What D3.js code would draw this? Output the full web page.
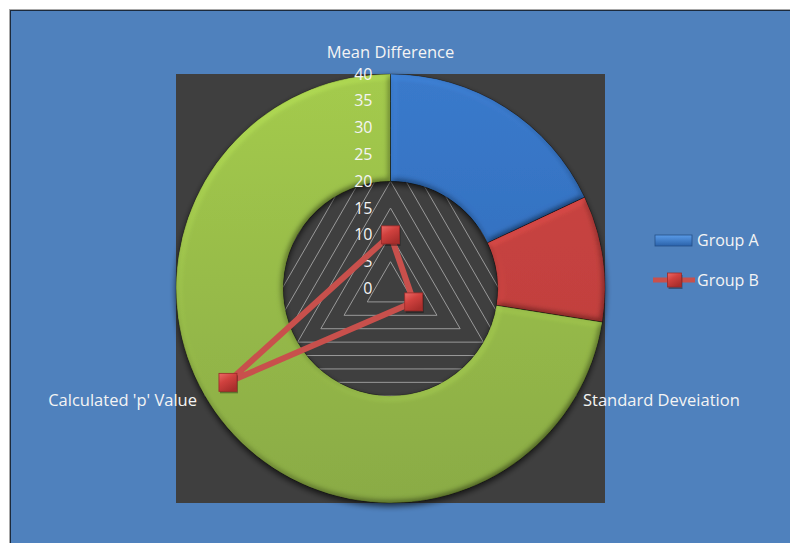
<!DOCTYPE html>
<html><head><meta charset="utf-8">
<script src="https://cdn.jsdelivr.net/npm/d3@7"></script>
<style>html,body{margin:0;padding:0;background:#fff;}svg{display:block;}</style>
</head><body>
<svg id="c" width="790" height="543"></svg>
<script>
const categories = ["Mean Difference", "Standard Deveiation", "Calculated 'p' Value"];
const groupA = [18, 9.5, 72.5];   // donut (share of ring)
const groupB = [10, 5, 35];       // radar values
const radialTicks = [0, 5, 10, 15, 20, 25, 30, 35, 40];
const seriesNames = ["Group A", "Group B"];

const W = 790, H = 543;
const svg = d3.select("#c");
const defs = svg.append("defs");
const FONT = "'Open Sans', 'DejaVu Sans', sans-serif";

// chart frame
svg.append("rect").attr("x", 9).attr("y", 9).attr("width", W).attr("height", H).attr("fill", "#a8a8a8");
svg.append("rect").attr("x", 10).attr("y", 10).attr("width", W).attr("height", H).attr("fill", "#1c2a3c");
svg.append("rect").attr("x", 11).attr("y", 11).attr("width", W).attr("height", H).attr("fill", "#4f81bd");

// plot area
const plot = {x: 176, y: 74, w: 429, h: 429};
svg.append("rect").attr("x", plot.x).attr("y", plot.y).attr("width", plot.w).attr("height", plot.h).attr("fill", "#3f3f3f");

const cx = plot.x + plot.w / 2, cy = plot.y + plot.h / 2;
const R = plot.w / 2;
const r = d3.scaleLinear().domain([0, 40]).range([0, R]);
const angle = d3.scaleLinear().domain([0, categories.length]).range([0, 2 * Math.PI]);
const pt = (i, v) => [cx + r(v) * Math.sin(angle(i)), cy - r(v) * Math.cos(angle(i))];

const g = svg.append("g");

// radar gridlines (triangles)
radialTicks.filter(t => t > 0).forEach(t => {
  const pts = categories.map((c, i) => pt(i, t));
  g.append("path").attr("d", d3.line()(pts) + "Z").attr("fill", "none")
    .attr("stroke", "#9a9a9a").attr("stroke-width", 1);
});

// gradients
function vgrad(id, top, bottom) {
  const lg = defs.append("linearGradient").attr("id", id).attr("gradientUnits", "userSpaceOnUse")
    .attr("x1", 0).attr("y1", -R).attr("x2", 0).attr("y2", R);
  lg.append("stop").attr("offset", "0%").attr("stop-color", top);
  lg.append("stop").attr("offset", "100%").attr("stop-color", bottom);
}
vgrad("gBlue", "#3a7acb", "#2c66b4");
vgrad("gRed", "#cc4643", "#bb3c3a");
vgrad("gGreen", "#a4cb4d", "#8aab45");
const sliceFill = ["url(#gBlue)", "url(#gRed)", "url(#gGreen)"];

// bevel filter (diffuse lighting multiplied with the fill; flat area unchanged)
const f = defs.append("filter").attr("id", "bevel").attr("x", "-5%").attr("y", "-5%").attr("width", "110%").attr("height", "110%");
f.append("feGaussianBlur").attr("in", "SourceAlpha").attr("stdDeviation", 3).attr("result", "blur");
const dl = f.append("feDiffuseLighting").attr("in", "blur").attr("surfaceScale", 3.5).attr("diffuseConstant", 1)
  .attr("lighting-color", "#ffffff").attr("result", "diff");
dl.append("feDistantLight").attr("azimuth", 235).attr("elevation", 60);
f.append("feComposite").attr("in", "SourceGraphic").attr("in2", "diff").attr("operator", "arithmetic")
  .attr("k1", 1.155).attr("k2", 0).attr("k3", 0).attr("k4", 0).attr("result", "lit");
f.append("feComposite").attr("in", "lit").attr("in2", "SourceAlpha").attr("operator", "in");

const sh = defs.append("filter").attr("id", "shadow").attr("x", "-10%").attr("y", "-10%").attr("width", "120%").attr("height", "120%");
sh.append("feGaussianBlur").attr("in", "SourceAlpha").attr("stdDeviation", 3).attr("result", "b");
sh.append("feOffset").attr("in", "b").attr("dx", 0).attr("dy", 3).attr("result", "o");
sh.append("feComponentTransfer").attr("in", "o").attr("result", "o2")
  .append("feFuncA").attr("type", "linear").attr("slope", 0.7);
const m = sh.append("feMerge");
m.append("feMergeNode").attr("in", "o2");
m.append("feMergeNode").attr("in", "SourceGraphic");

// donut (Group A)
const pie = d3.pie().sort(null).startAngle(0).endAngle(2 * Math.PI);
const arc = d3.arc().innerRadius(R * 0.5).outerRadius(R);
const donut = svg.append("g").attr("transform", `translate(${cx},${cy})`).attr("filter", "url(#shadow)");
donut.selectAll("path.slice").data(pie(groupA)).join("path").attr("class", "slice")
  .attr("d", arc).attr("fill", (d, i) => sliceFill[i])
  .attr("filter", "url(#bevel)");
donut.selectAll("path.edge").data(pie(groupA)).join("path").attr("class", "edge")
  .attr("d", arc).attr("fill", "none")
  .attr("stroke", "rgba(0,0,0,0.3)").attr("stroke-width", 0.8);

// radial axis tick labels
svg.append("g").selectAll("text").data(radialTicks).join("text")
  .attr("x", cx - 18).attr("y", d => cy - r(d)).attr("dy", "0.35em")
  .attr("text-anchor", "end").attr("fill", "#f4f4f4")
  .attr("font-family", FONT).attr("font-size", 16).text(d => d);

// category labels
const labelPos = [
  {x: cx, y: 52, anchor: "middle"},
  {x: 583, y: 400, anchor: "start"},
  {x: 197, y: 400, anchor: "end"}
];
svg.append("g").selectAll("text").data(categories).join("text")
  .attr("x", (d, i) => labelPos[i].x).attr("y", (d, i) => labelPos[i].y).attr("dy", "0.35em")
  .attr("text-anchor", (d, i) => labelPos[i].anchor).attr("fill", "#f4f4f4")
  .attr("font-family", FONT).attr("font-size", 16.5).text(d => d);

// marker gradient
const mg = defs.append("linearGradient").attr("id", "gMark").attr("x1", 0).attr("y1", 0).attr("x2", 0.6).attr("y2", 1);
mg.append("stop").attr("offset", "0%").attr("stop-color", "#ec6a66");
mg.append("stop").attr("offset", "45%").attr("stop-color", "#d0413e");
mg.append("stop").attr("offset", "100%").attr("stop-color", "#a82e2c");

// radar series (Group B)
const bPts = groupB.map((v, i) => pt(i, v));
svg.append("path").attr("d", d3.line()(bPts) + "Z").attr("fill", "none")
  .attr("stroke", "#c8504c").attr("stroke-width", 6).attr("stroke-linejoin", "round");
function marker(sel, x, y, s) {
  sel.append("rect").attr("x", x - s / 2 + 1).attr("y", y - s / 2 + 2).attr("width", s).attr("height", s)
    .attr("fill", "rgba(0,0,0,0.35)");
  sel.append("rect").attr("x", x - s / 2).attr("y", y - s / 2).attr("width", s).attr("height", s)
    .attr("fill", "url(#gMark)").attr("stroke", "#9a2a28").attr("stroke-width", 0.8);
}
const mk = svg.append("g");
bPts.forEach(p => marker(mk, p[0], p[1], 18));

// legend
const lg = svg.append("g");
const lgA = defs.append("linearGradient").attr("id", "gLegA").attr("x1", 0).attr("y1", 0).attr("x2", 0).attr("y2", 1);
lgA.append("stop").attr("offset", "0%").attr("stop-color", "#5a9be8");
lgA.append("stop").attr("offset", "100%").attr("stop-color", "#2a62aa");
lg.append("rect").attr("x", 655).attr("y", 235).attr("width", 37).attr("height", 11).attr("fill", "url(#gLegA)")
  .attr("stroke", "#234f88").attr("stroke-width", 0.8);
lg.append("line").attr("x1", 653).attr("x2", 695).attr("y1", 280).attr("y2", 280)
  .attr("stroke", "#c8504c").attr("stroke-width", 5);
marker(lg, 674.5, 280, 14);
lg.selectAll("text").data(seriesNames).join("text")
  .attr("x", 697).attr("y", (d, i) => 240 + i * 40).attr("dy", "0.35em")
  .attr("fill", "#f4f4f4").attr("font-family", FONT).attr("font-size", 16).text(d => d);
</script>
</body></html>
